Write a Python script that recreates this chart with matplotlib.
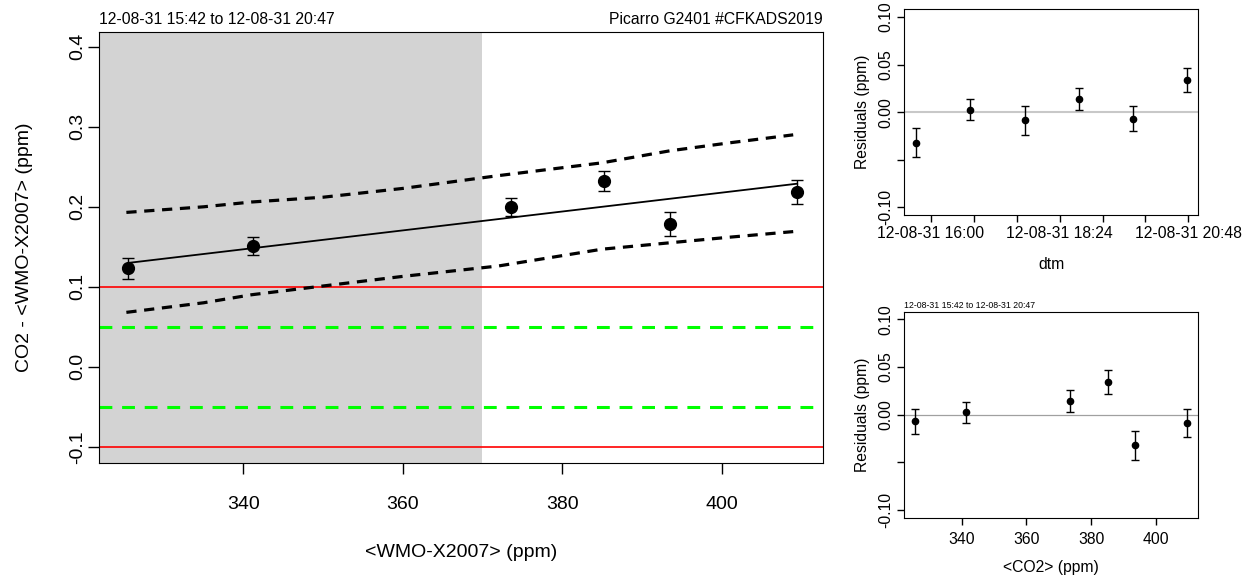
import matplotlib
matplotlib.use("Agg")
import matplotlib.pyplot as plt
import numpy as np
import datetime as dt

plt.rcParams['font.family'] = ['Liberation Sans', 'DejaVu Sans']

# samples, in time order
times = ["2012-08-31 15:43", "2012-08-31 16:44", "2012-08-31 17:45",
         "2012-08-31 18:46", "2012-08-31 19:46", "2012-08-31 20:46"]
wmo = [393.5, 341.2, 409.5, 373.6, 325.5, 385.2]
diff = [0.178, 0.151, 0.219, 0.200, 0.123, 0.2325]
err = [0.015, 0.011, 0.015, 0.0115, 0.013, 0.0124]
resid = [-0.032, 0.0025, -0.0087, 0.014, -0.007, 0.034]

# fitted line (slope, intercept) and confidence band
fit_coef = [0.00118, -0.2543]
band_x = [325.3, 335, 341, 350, 360, 372, 385, 393.5, 401, 409]
band_hi = [0.193, 0.200, 0.206, 0.212, 0.223, 0.239, 0.255, 0.270, 0.280, 0.290]
band_lo = [0.068, 0.080, 0.090, 0.101, 0.113, 0.126, 0.147, 0.155, 0.162, 0.169]

limit_red = 0.1
limit_green = 0.05
shade_end = 370

time_range = "12-08-31 15:42 to 12-08-31 20:47"
instrument = "Picarro G2401 #CFKADS2019"

t = [dt.datetime.strptime(s, "%Y-%m-%d %H:%M") for s in times]

fig = plt.figure(figsize=(12.52, 5.76), dpi=100)

# main panel
ax = fig.add_axes([0.0793, 0.1967, 0.5778, 0.7483])
ax.set_xlim(321.9, 412.7)
ax.set_ylim(-0.12, 0.419)
ax.axvspan(321.9, shade_end, color='#d3d3d3', lw=0, zorder=0)
for v in (limit_red, -limit_red):
    ax.axhline(v, color='red', lw=1.2, zorder=1)
for v in (limit_green, -limit_green):
    ax.axhline(v, color='#00ff00', lw=2.2, ls=(0, (4.2, 3.2)), zorder=1)
xs = np.array([min(wmo), max(wmo)])
ax.plot(xs, np.polyval(fit_coef, xs), color='black', lw=1.3, zorder=2)
ax.plot(band_x, band_hi, color='black', lw=2.3, ls=(0, (3.2, 2.4)), zorder=2)
ax.plot(band_x, band_lo, color='black', lw=2.3, ls=(0, (3.2, 2.4)), zorder=2)
ax.errorbar(wmo, diff, yerr=err, fmt='o', color='black', ms=8.5,
            capsize=4.2, elinewidth=1, capthick=1, zorder=3)
ax.set_xticks([340, 360, 380, 400])
ax.set_yticks([-0.1, 0.0, 0.1, 0.2, 0.3, 0.4])
ax.set_yticklabels(['-0.1', '0.0', '0.1', '0.2', '0.3', '0.4'],
                   rotation=90, va='center')
ax.tick_params(labelsize=14, length=8, width=1)
ax.tick_params(axis='x', pad=16)
ax.tick_params(axis='y', pad=1.5)
ax.set_xlabel("<WMO-X2007> (ppm)", fontsize=14, labelpad=22)
ax.set_ylabel("CO2 - <WMO-X2007> (ppm)", fontsize=14, labelpad=26)
ax.text(0.0, 1.012, time_range, transform=ax.transAxes, fontsize=11.3,
        ha='left', va='bottom')
ax.text(1.0, 1.012, instrument, transform=ax.transAxes, fontsize=11.3,
        ha='right', va='bottom')

res_ticks = [-0.10, -0.05, 0.0, 0.05, 0.10]
res_labels = ['-0.10', '', '0.00', '0.05', '0.10']

# residuals vs time
ax2 = fig.add_axes([0.7223, 0.6267, 0.2348, 0.3571])
t0 = dt.datetime(2012, 8, 31, 15, 30, 30)
t1 = dt.datetime(2012, 8, 31, 20, 59)
ax2.set_xlim(t0, t1)
ax2.set_ylim(-0.108, 0.108)
ax2.axhline(0, color='#c8c8c8', lw=1.5, zorder=1)
ax2.errorbar(t, resid, yerr=err, fmt='o', color='black', ms=4.5,
             capsize=3, elinewidth=1, capthick=1, zorder=3)
tick_times = [dt.datetime(2012, 8, 31, 16, 0) + dt.timedelta(minutes=48 * k)
              for k in range(7)]
ax2.set_xticks(tick_times)
ax2.set_xticklabels([d.strftime("%y-%m-%d %H:%M") if k % 3 == 0 else ''
                     for k, d in enumerate(tick_times)])
ax2.set_yticks(res_ticks)
ax2.set_yticklabels(res_labels, rotation=90, va='center')
ax2.tick_params(labelsize=11.3, length=5, width=1, pad=3)
ax2.set_xlabel("dtm", fontsize=11.3, labelpad=11.5)
ax2.set_ylabel("Residuals (ppm)", fontsize=11.3, labelpad=6)

# residuals vs CO2
ax3 = fig.add_axes([0.7223, 0.1012, 0.2348, 0.3576])
ax3.set_xlim(322.3, 413.05)
ax3.set_ylim(-0.108, 0.108)
ax3.axhline(0, color='#a0a0a0', lw=0.9, zorder=1)
ax3.errorbar(wmo, resid, yerr=err, fmt='o', color='black', ms=4.5,
             capsize=3, elinewidth=1, capthick=1, zorder=3)
ax3.set_xticks([340, 360, 380, 400])
ax3.set_yticks(res_ticks)
ax3.set_yticklabels(res_labels, rotation=90, va='center')
ax3.tick_params(labelsize=11.3, length=5, width=1, pad=3)
ax3.tick_params(axis='x', pad=5)
ax3.set_xlabel("<CO2> (ppm)", fontsize=11.3, labelpad=10)
ax3.set_ylabel("Residuals (ppm)", fontsize=11.3, labelpad=6)
ax3.text(0.0, 1.01, time_range, transform=ax3.transAxes, fontsize=6.3,
         ha='left', va='bottom')

fig.savefig("out.png", dpi=100)
